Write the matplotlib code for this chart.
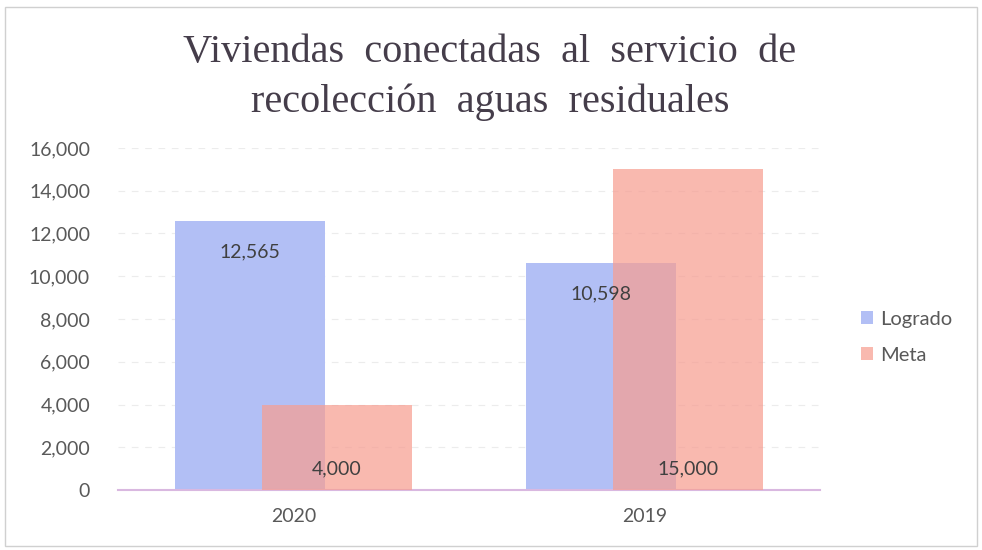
import matplotlib
matplotlib.use("Agg")
import matplotlib.pyplot as plt
import numpy as np
from matplotlib.patches import Rectangle
from matplotlib.ticker import FuncFormatter

categories = ["2020", "2019"]
logrado = [12565, 10598]
meta = [4000, 15000]
yticks = [0, 2000, 4000, 6000, 8000, 10000, 12000, 14000, 16000]

fig = plt.figure(figsize=(9.82, 5.5), dpi=100)
ax = fig.add_axes([0.120, 0.109, 0.715, 0.622])

x = np.arange(len(categories))
w = 0.426
off = 0.124
c_log = (178/255, 191/255, 245/255)
c_meta = (247/255, 158/255, 145/255)
b1 = ax.bar(x - off, logrado, w, color=c_log, label="Logrado", zorder=2)
b2 = ax.bar(x + off, meta, w, color=c_meta, alpha=0.72, label="Meta", zorder=3)

ax.set_xlim(-0.5, 1.5)
ax.set_ylim(0, 16000)
ax.set_yticks(yticks)
ax.yaxis.set_major_formatter(FuncFormatter(lambda v, p: f"{int(v):,}"))
ax.set_xticks(x)
ax.set_xticklabels(categories)

for s in ["top", "right", "left"]:
    ax.spines[s].set_visible(False)
ax.spines["bottom"].set_color("#d9b8e0")
ax.spines["bottom"].set_linewidth(1.5)
ax.tick_params(axis="both", length=0, colors="#595959", labelsize=14)
ax.tick_params(axis="y", pad=20)
ax.tick_params(axis="x", pad=13)
for lab in ax.get_xticklabels() + ax.get_yticklabels():
    lab.set_family("Lato")
ax.grid(axis="y", color="#ececec", linewidth=0.8, linestyle=(0, (6, 6)), zorder=0)
ax.set_axisbelow(True)

for i in range(len(categories)):
    ax.annotate(f"{logrado[i]:,}", (x[i] - off, logrado[i]), xytext=(0, -28),
                textcoords="offset points", ha="center", va="bottom",
                fontsize=14, color="#404040", family="Lato", zorder=5)
    ax.annotate(f"{meta[i]:,}", (x[i] + off, 0), xytext=(0, 9),
                textcoords="offset points", ha="center", va="bottom",
                fontsize=14, color="#404040", family="Lato", zorder=5)

leg = ax.legend(loc="center left", bbox_to_anchor=(1.033, 0.447), frameon=False,
                handlelength=0.6, handleheight=0.6, handletextpad=0.35,
                labelspacing=0.95, prop={"family": "Lato", "size": 14.5})
for t in leg.get_texts():
    t.set_color("#595959")

fig.text(0.499, 0.905, "Viviendas  conectadas  al  servicio  de", ha="center", va="center",
         family="Liberation Serif", fontsize=29, color="#453d4a")
fig.text(0.499, 0.814, "recolección  aguas  residuales", ha="center", va="center",
         family="Liberation Serif", fontsize=29, color="#453d4a")

fig.patches.append(Rectangle((0.005, 0.008), 0.99, 0.98, transform=fig.transFigure,
                             fill=False, edgecolor="#d0d0d0", linewidth=1))

fig.savefig("out.png", dpi=100)
